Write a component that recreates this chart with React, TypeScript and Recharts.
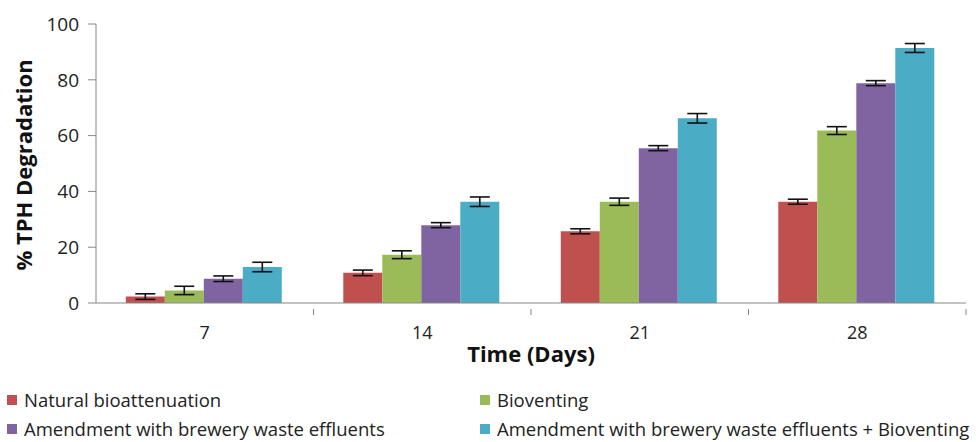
import React from 'react';
import { Bar, BarChart, XAxis, YAxis, ErrorBar } from 'recharts';

const days = ['7', '14', '21', '28'];
const natural = [2.3, 10.8, 25.7, 36.3];
const bioventing = [4.5, 17.3, 36.3, 61.8];
const amendment = [8.7, 27.9, 55.5, 78.8];
const combined = [12.9, 36.3, 66.2, 91.4];
const naturalErr = [1.0, 1.0, 0.9, 0.9];
const bioventingErr = [1.5, 1.4, 1.3, 1.4];
const amendmentErr = [1.0, 0.9, 0.9, 0.9];
const combinedErr = [1.7, 1.7, 1.7, 1.6];
const yTicks = [0, 20, 40, 60, 80, 100];

const series = [
    { key: 'natural', err: 'naturalErr', name: 'Natural bioattenuation', color: '#C0504D' },
    { key: 'bioventing', err: 'bioventingErr', name: 'Bioventing', color: '#9BBB59' },
    { key: 'amendment', err: 'amendmentErr', name: 'Amendment with brewery waste effluents', color: '#8064A2' },
    { key: 'combined', err: 'combinedErr', name: 'Amendment with brewery waste effluents + Bioventing', color: '#4BACC6' },
];

const data = days.map((d, i) => ({
    day: d,
    natural: natural[i],
    bioventing: bioventing[i],
    amendment: amendment[i],
    combined: combined[i],
    naturalErr: naturalErr[i],
    bioventingErr: bioventingErr[i],
    amendmentErr: amendmentErr[i],
    combinedErr: combinedErr[i],
}));

const FONT = '"Open Sans", Lato, sans-serif';
const AXIS = '#868686';

// x ticks sit on the category boundaries, like Excel
function XTick(props: any) {
    const { x, y, payload } = props;
    const half = payload.offset || 0;
    return (
        <g>
            <line x1={x + half} x2={x + half} y1={y - 14} y2={y - 8} stroke={AXIS} />
            <text x={x} y={y} dy={16} textAnchor="middle" fill="#222" fontSize={18} fontFamily={FONT}>
                {payload.value}
            </text>
        </g>
    );
}

function LegendBox() {
    return (
        <div style={{ position: 'absolute', left: 7, top: 388, display: 'grid', gridTemplateColumns: '473px 500px', rowGap: 5, fontFamily: FONT, fontSize: 18.5, color: '#222', lineHeight: '24px' }}>
            {series.map((s) => (
                <div key={s.key} style={{ display: 'flex', alignItems: 'center', whiteSpace: 'nowrap' }}>
                    <span style={{ width: 10, height: 10, background: s.color, marginRight: 7, display: 'inline-block' }} />
                    {s.name}
                </div>
            ))}
        </div>
    );
}

export default function App() {
    return (
        <div style={{ position: 'absolute', left: 0, top: 0, width: 976, height: 442, background: '#fff', overflow: 'hidden' }}>
            <BarChart
                width={976}
                height={442}
                data={data}
                margin={{ top: 24, right: 10, left: 0, bottom: 109 }}
                barCategoryGap="13.7%"
                barGap={0}
            >
                <XAxis
                    dataKey="day"
                    height={30}
                    stroke={AXIS}
                    tickLine={false}
                    tickMargin={14}
                    tick={<XTick />}
                    label={{ value: 'Time (Days)', position: 'insideBottom', offset: -29, fill: '#111', fontSize: 22, fontWeight: 700, fontFamily: FONT }}
                />
                <YAxis
                    width={96}
                    domain={[0, 100]}
                    ticks={yTicks}
                    stroke={AXIS}
                    tickSize={8}
                    tickMargin={9}
                    tick={{ fill: '#222', fontSize: 19, fontFamily: FONT }}
                    label={() => (
                        <text x={24} y={165} transform="rotate(-90 24 165)" dy={8} textAnchor="middle" fill="#111" fontSize={22} fontWeight={700} fontFamily={FONT}>
                            % TPH Degradation
                        </text>
                    )}
                />
                {series.map((s) => (
                    <Bar key={s.key} dataKey={s.key} name={s.name} fill={s.color} isAnimationActive={false}>
                        <ErrorBar dataKey={s.err} width={10} stroke="#111" strokeWidth={1.6} />
                    </Bar>
                ))}
            </BarChart>
            <LegendBox />
        </div>
    );
}
